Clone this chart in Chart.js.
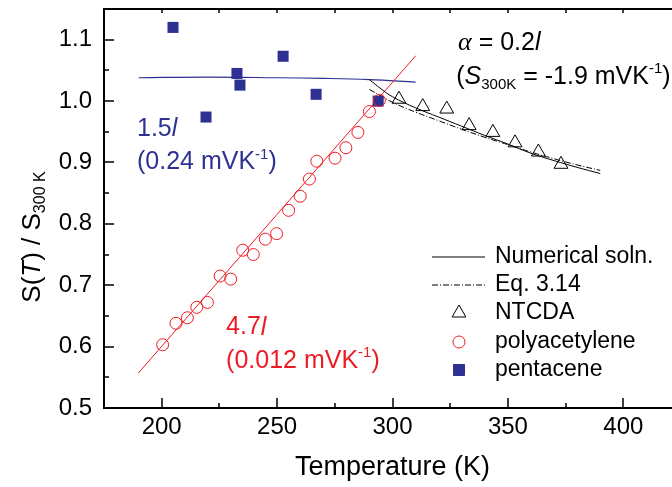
<!DOCTYPE html>
<html>
<head>
<meta charset="utf-8">
<script src="https://cdn.jsdelivr.net/npm/chart.js@4.4.0/dist/chart.umd.min.js"></script>
<style>
    html, body { margin: 0; padding: 0; background: #fff; overflow: hidden; width: 672px; height: 487px; }
    canvas { display: block; }
</style>
</head>
<body>
<canvas id="chart" width="690" height="487"></canvas>
<script>
// pentacene (filled squares)
const pentaceneT = [204.9, 219.2, 232.6, 233.9, 252.6, 266.9, 293.8];
const pentaceneS = [1.120, 0.974, 1.045, 1.026, 1.073, 1.011, 1.000];
// pentacene fit (1.5 l)
const pentaceneFitT = [190, 220, 250, 270, 290, 310];
const pentaceneFitS = [1.038, 1.039, 1.038, 1.037, 1.035, 1.031];

// polyacetylene (open circles)
const polyT = [200.4, 206.2, 211.1, 215.2, 219.8, 225.3, 229.9, 235.1, 239.7, 244.9,
    249.8, 255.0, 260.0, 264.0, 267.2, 275.1, 279.8, 285.0, 290.0, 294.3];
const polyS = [0.603, 0.638, 0.647, 0.664, 0.672, 0.715, 0.710, 0.757, 0.750, 0.775,
    0.784, 0.822, 0.845, 0.873, 0.902, 0.907, 0.924, 0.949, 0.983, 1.001];
// polyacetylene fit (4.7 l)
const polyFitT = [189.9, 310.1];
const polyFitS = [0.557, 1.074];

// NTCDA (open triangles)
const ntcdaT = [302.8, 313.1, 323.5, 333.2, 343.5, 353.1, 363.2, 373.0];
const ntcdaS = [1.003, 0.991, 0.987, 0.960, 0.949, 0.932, 0.917, 0.897];

// numerical solution and Eq. 3.14
const numT = [290, 295, 300, 310, 320, 330, 340, 350, 360, 370, 380, 390];
const numS = [1.035, 1.020, 1.007, 0.989, 0.974, 0.959, 0.944, 0.930, 0.915, 0.903, 0.892, 0.882];
const eqT = [290, 300, 310, 320, 330, 340, 350, 360, 370, 380, 390];
const eqS = [1.019, 0.998, 0.982, 0.968, 0.954, 0.941, 0.929, 0.917, 0.906, 0.896, 0.887];

const xTicks = [200, 250, 300, 350, 400];
const yTicks = [0.5, 0.6, 0.7, 0.8, 0.9, 1.0, 1.1];
const xMinorTicks = [200, 225, 250, 275, 300, 325, 350, 375, 400];
const yMinorTicks = [0.55, 0.6, 0.65, 0.7, 0.75, 0.8, 0.85, 0.9, 0.95, 1.0, 1.05, 1.1];

const BLUE = '#2e3192';
const RED = '#ed1c24';
const FONT = "'Liberation Sans', Arial, sans-serif";

function pts(xs, ys) {
    return xs.map((x, i) => ({x: x, y: ys[i]}));
}

// draws a list of text runs one after another
function drawRuns(ctx, runs, x, y, color) {
    ctx.save();
    ctx.fillStyle = color;
    ctx.textBaseline = 'middle';
    ctx.textAlign = 'left';
    runs.forEach(r => {
        ctx.font = r.f;
        ctx.fillText(r.t, x, y + (r.dy || 0));
        x += ctx.measureText(r.t).width;
    });
    ctx.restore();
}

const big = '25px ' + FONT;
const bigIt = 'italic 25px ' + FONT;
const small = '15px ' + FONT;

const decorations = {
    id: 'decorations',
    afterDraw(chart) {
        const ctx = chart.ctx;
        const sx = chart.scales.x;
        const sy = chart.scales.y;

        // y axis title
        ctx.save();
        ctx.translate(33, 237);
        ctx.rotate(-Math.PI / 2);
        const yTitle = [
            {t: 'S(', f: '26px ' + FONT},
            {t: 'T', f: 'italic 26px ' + FONT},
            {t: ') / S', f: '26px ' + FONT},
            {t: '300 K', f: '16px ' + FONT, dy: 8}
        ];
        let w = 0;
        yTitle.forEach(r => { ctx.font = r.f; w += ctx.measureText(r.t).width; });
        drawRuns(ctx, yTitle, -w / 2, 0, '#000');
        ctx.restore();

        // annotations
        const X = v => sx.getPixelForValue(v);
        const Y = v => sy.getPixelForValue(v);
        drawRuns(ctx, [
            {t: 'α', f: "italic 26px 'Liberation Serif', serif"},
            {t: ' = 0.2', f: big},
            {t: 'l', f: bigIt}
        ], X(328.4), Y(1.094), '#000');
        drawRuns(ctx, [
            {t: '(', f: big},
            {t: 'S', f: bigIt},
            {t: '300K', f: small, dy: 8},
            {t: ' = -1.9 mVK', f: big},
            {t: '-1', f: small, dy: -8},
            {t: ')', f: big}
        ], X(327.6), Y(1.039), '#000');

        drawRuns(ctx, [{t: '1.5', f: big}, {t: 'l', f: bigIt}], X(189.3), Y(0.955), BLUE);
        drawRuns(ctx, [
            {t: '(0.24 mVK', f: big},
            {t: '-1', f: small, dy: -8},
            {t: ')', f: big}
        ], X(189.3), Y(0.900), BLUE);

        drawRuns(ctx, [{t: '4.7', f: big}, {t: 'l', f: bigIt}], X(227.9), Y(0.631), RED);
        drawRuns(ctx, [
            {t: '(0.012 mVK', f: big},
            {t: '-1', f: small, dy: -8},
            {t: ')', f: big}
        ], X(227.9), Y(0.576), RED);

        // legend
        const legendItems = [
            {text: 'Numerical soln.', line: []},
            {text: 'Eq. 3.14', line: [6, 2, 1, 2]},
            {text: 'NTCDA', style: 'triangle', r: 8, stroke: '#000', fill: 'rgba(0,0,0,0)'},
            {text: 'polyacetylene', style: 'circle', r: 6, stroke: RED, fill: 'rgba(0,0,0,0)'},
            {text: 'pentacene', style: 'rect', r: 7.8, stroke: BLUE, fill: BLUE}
        ];
        const rowY = [257, 285, 313, 342, 370];
        legendItems.forEach((item, i) => {
            const y = rowY[i];
            ctx.save();
            if (item.line) {
                ctx.strokeStyle = '#000';
                ctx.lineWidth = 1;
                ctx.setLineDash(item.line);
                ctx.beginPath();
                ctx.moveTo(432, y);
                ctx.lineTo(485, y);
                ctx.stroke();
            } else {
                ctx.strokeStyle = item.stroke;
                ctx.fillStyle = item.fill;
                Chart.helpers.drawPoint(ctx, {pointStyle: item.style, radius: item.r, borderWidth: 1}, 459, y);
            }
            ctx.restore();
            drawRuns(ctx, [{t: item.text, f: '23px ' + FONT}], 495, y, '#000');
        });
    }
};

// frame and inward ticks
const axisFrame = {
    id: 'axisFrame',
    afterDraw(chart) {
        const ctx = chart.ctx;
        const sx = chart.scales.x;
        const sy = chart.scales.y;
        const x0 = sy.right;
        const x1 = sx.right;
        const y0 = sy.top;
        const y1 = sx.top;
        ctx.save();
        ctx.fillStyle = '#000';
        ctx.fillRect(x0 - 1, y0 - 1, 2, y1 - y0 + 2);
        ctx.fillRect(x0 - 1, y1 - 1, x1 - x0 + 2, 2);
        ctx.fillRect(x0 - 1, y0 - 1, x1 - x0 + 2, 2);
        ctx.fillRect(x1 - 1, y0 - 1, 2, y1 - y0 + 2);
        xMinorTicks.forEach(t => {
            const px = Math.round(sx.getPixelForValue(t));
            const len = t % 50 === 0 ? 10 : 5;
            ctx.fillRect(px - 0.75, y1 - len, 1.5, len);
            ctx.fillRect(px - 0.75, y0, 1.5, 4);
        });
        yMinorTicks.forEach(s => {
            const py = Math.round(sy.getPixelForValue(s));
            const len = Math.round(s * 100) % 10 === 0 ? 10 : 5;
            ctx.fillRect(x0, py - 0.75, len, 1.5);
        });
        ctx.restore();
    }
};

const hiddenGrid = {display: true, drawOnChartArea: false, drawTicks: false, color: 'rgba(0,0,0,0)'};
const frameBorder = {display: true, color: '#000', width: 2};

new Chart(document.getElementById('chart'), {
    type: 'scatter',
    data: {
        datasets: [
            {
                label: 'polyacetylene',
                data: pts(polyT, polyS),
                pointStyle: 'circle',
                radius: 6,
                borderWidth: 1,
                borderColor: RED,
                backgroundColor: 'rgba(0,0,0,0)'
            },
            {
                label: 'pentacene',
                data: pts(pentaceneT, pentaceneS),
                pointStyle: 'rect',
                radius: 7.8,
                borderWidth: 0,
                borderColor: BLUE,
                backgroundColor: BLUE
            },
            {
                label: 'NTCDA',
                data: pts(ntcdaT, ntcdaS),
                pointStyle: 'triangle',
                radius: 8,
                borderWidth: 1,
                borderColor: '#000',
                backgroundColor: 'rgba(0,0,0,0)'
            },
            {
                label: 'Numerical soln.',
                data: pts(numT, numS),
                showLine: true,
                radius: 0,
                borderWidth: 1,
                borderColor: '#000',
                tension: 0.4
            },
            {
                label: 'Eq. 3.14',
                data: pts(eqT, eqS),
                showLine: true,
                radius: 0,
                borderWidth: 1,
                borderColor: '#000',
                borderDash: [6, 2, 1, 2],
                tension: 0.4
            },
            {
                label: 'polyacetylene fit',
                data: pts(polyFitT, polyFitS),
                showLine: true,
                radius: 0,
                borderWidth: 1,
                borderColor: RED
            },
            {
                label: 'pentacene fit',
                data: pts(pentaceneFitT, pentaceneFitS),
                showLine: true,
                radius: 0,
                borderWidth: 1.2,
                borderColor: BLUE,
                tension: 0.4
            }
        ]
    },
    options: {
        responsive: false,
        animation: false,
        devicePixelRatio: 1,
        layout: {padding: {top: 6, right: 9, left: 0, bottom: 0}},
        plugins: {
            legend: {display: false},
            tooltip: {enabled: false}
        },
        scales: {
            x: {
                type: 'linear',
                min: 175,
                max: 425,
                afterBuildTicks: scale => { scale.ticks = xTicks.map(v => ({value: v})); },
                afterFit: scale => {
                    scale.height = 79;
                    scale.paddingLeft = 0;
                    scale.paddingRight = 0;
                },
                grid: hiddenGrid,
                border: frameBorder,
                ticks: {
                    color: '#000',
                    font: {family: FONT, size: 24},
                    padding: 5,
                    maxRotation: 0
                },
                title: {
                    display: true,
                    text: 'Temperature (K)',
                    color: '#000',
                    font: {family: FONT, size: 27},
                    padding: {top: 0, bottom: 3}
                }
            },
            x2: {
                type: 'linear',
                position: 'top',
                min: 175,
                max: 425,
                afterFit: scale => {
                    scale.height = 0;
                    scale.paddingLeft = 0;
                    scale.paddingRight = 0;
                },
                grid: hiddenGrid,
                border: frameBorder,
                ticks: {display: false}
            },
            y: {
                min: 0.5,
                max: 1.15,
                afterBuildTicks: scale => { scale.ticks = yTicks.map(v => ({value: v})); },
                afterFit: scale => {
                    scale.width = 104;
                    scale.paddingTop = 0;
                    scale.paddingBottom = 0;
                },
                grid: hiddenGrid,
                border: frameBorder,
                ticks: {
                    color: '#000',
                    font: {family: FONT, size: 24},
                    padding: 12,
                    callback: v => v.toFixed(1)
                }
            }
        }
    },
    plugins: [decorations, axisFrame]
});
</script>
</body>
</html>
